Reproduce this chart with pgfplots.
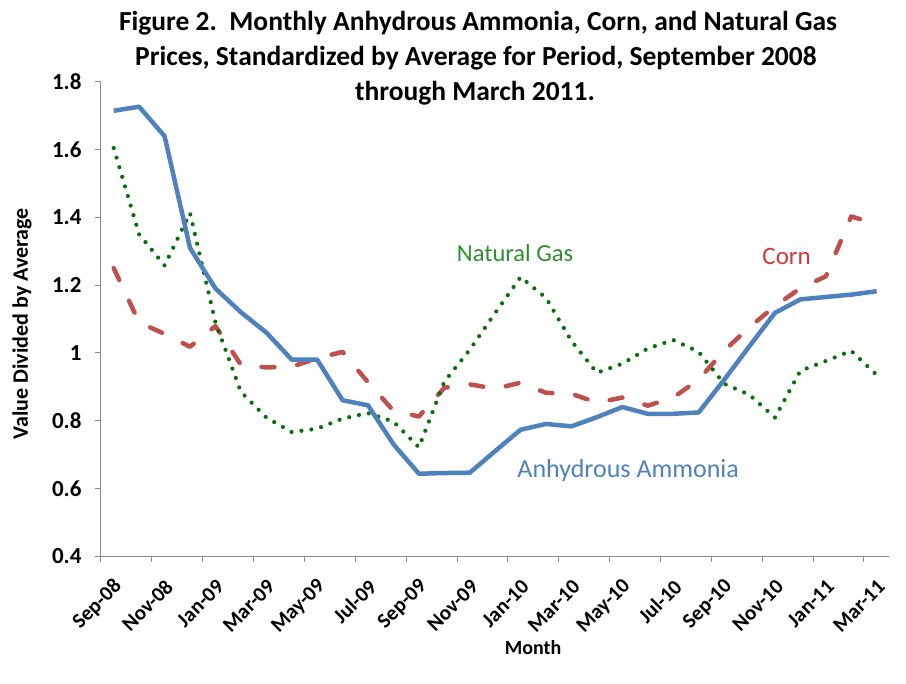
\documentclass[border=0pt]{standalone}
\usepackage{fontspec}
\setmainfont{Carlito}
\usepackage{pgfplots}
\pgfplotsset{compat=1.18}
\definecolor{ammblue}{HTML}{4F81BD}
\definecolor{cornred}{HTML}{C0504D}
\definecolor{cornlab}{HTML}{D23A3A}
\definecolor{gasgreen}{HTML}{087008}
\definecolor{gaslab}{HTML}{2E8F2E}
\definecolor{axgray}{HTML}{8C8C8C}
\begin{document}
\begin{tikzpicture}
\useasboundingbox (0pt,0pt) rectangle (906pt,-684pt);
\begin{axis}[
  at={(101pt,-556pt)}, anchor=south west,
  scale only axis, width=788.4pt, height=474pt,
  xmin=-0.5, xmax=30.5, ymin=0.4, ymax=1.8,
  axis lines*=left,
  axis line style={draw=axgray, line width=1pt},
  tick align=outside, major tick length=6pt,
  tick style={draw=axgray, line width=1pt},
  xtick={-0.5,1.5,3.5,5.5,7.5,9.5,11.5,13.5,15.5,17.5,19.5,21.5,23.5,25.5,27.5,29.5},
  xticklabels={Sep-08,Nov-08,Jan-09,Mar-09,May-09,Jul-09,Sep-09,Nov-09,Jan-10,Mar-10,May-10,Jul-10,Sep-10,Nov-10,Jan-11,Mar-11},
  xticklabel style={xshift=20pt, yshift=-19pt, rotate=45, anchor=east, font=\fontsize{21}{21}\selectfont\bfseries},
  ytick={0.4,0.6,0.8,1,1.2,1.4,1.6,1.8},
  yticklabels={0.4,0.6,0.8,1,1.2,1.4,1.6,1.8},
  yticklabel style={font=\fontsize{23}{23}\selectfont\bfseries, xshift=-10pt},
  xlabel={Month},
  xlabel style={at={(axis description cs:0.548,-0.194)}, anchor=center, font=\fontsize{20}{20}\selectfont\bfseries},
  ylabel={Value Divided by Average},
  ylabel style={at={(axis description cs:-0.1002,0.49)}, anchor=center, font=\fontsize{22}{22}\selectfont\bfseries},
  clip=false,
]
\addplot[cornred, line width=4.5pt, line cap=round, line join=round, dash pattern=on 13pt off 23pt] coordinates {
(0,1.25)(1,1.09)(2,1.056)(3,1.018)(4,1.079)(5,0.965)(6,0.957)(7,0.959)(8,0.984)(9,1.003)(10,0.913)(11,0.829)(12,0.812)(13,0.897)(14,0.907)(15,0.894)(16,0.912)(17,0.882)(18,0.879)(19,0.853)(20,0.868)(21,0.844)(22,0.868)(23,0.921)(24,1.006)(25,1.076)(26,1.138)(27,1.191)(28,1.226)(29,1.403)(30,1.38)};
\addplot[gasgreen, line width=4.2pt, line cap=round, line join=round, dash pattern=on 0pt off 10pt] coordinates {
(0,1.605)(1,1.35)(2,1.258)(3,1.413)(4,1.09)(5,0.885)(6,0.809)(7,0.766)(8,0.776)(9,0.806)(10,0.822)(11,0.797)(12,0.721)(13,0.915)(14,1.009)(15,1.118)(16,1.224)(17,1.162)(18,1.035)(19,0.941)(20,0.968)(21,1.013)(22,1.038)(23,1.003)(24,0.909)(25,0.876)(26,0.809)(27,0.947)(28,0.976)(29,1.006)(30,0.935)};
\addplot[ammblue, line width=4.5pt, line join=round] coordinates {
(0,1.715)(1,1.727)(2,1.64)(3,1.31)(4,1.19)(5,1.12)(6,1.06)(7,0.98)(8,0.98)(9,0.86)(10,0.845)(11,0.73)(12,0.643)(13,0.645)(14,0.646)(15,0.71)(16,0.773)(17,0.79)(18,0.783)(19,0.81)(20,0.84)(21,0.82)(22,0.82)(23,0.824)(24,0.92)(25,1.02)(26,1.118)(27,1.158)(28,1.165)(29,1.172)(30,1.182)};
\node[text=gaslab, font=\fontsize{24.5}{24.5}\selectfont] at (axis cs:15.78,1.294) {Natural Gas};
\node[text=cornlab, font=\fontsize{25}{25}\selectfont] at (axis cs:26.46,1.285) {Corn};
\node[text=ammblue, font=\fontsize{26}{26}\selectfont] at (axis cs:20.23,0.653) {Anhydrous Ammonia};
\end{axis}
\node[anchor=base, inner sep=0pt, font=\fontsize{27.5}{27.5}\selectfont\bfseries] at (478pt,-31pt) {Figure 2.\ \ Monthly Anhydrous Ammonia, Corn, and Natural Gas};
\node[anchor=base, inner sep=0pt, font=\fontsize{27.5}{27.5}\selectfont\bfseries] at (476pt,-66pt) {Prices, Standardized by Average for Period, September 2008};
\node[anchor=base, inner sep=0pt, font=\fontsize{27.5}{27.5}\selectfont\bfseries] at (475pt,-101pt) {through March 2011.};
\end{tikzpicture}
\end{document}
